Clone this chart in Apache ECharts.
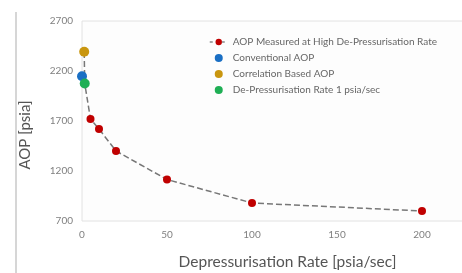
<!DOCTYPE html>
<html>
<head>
<meta charset="utf-8">
<script src="https://cdn.jsdelivr.net/npm/echarts@6/dist/echarts.min.js"></script>
<style>
    html, body { margin: 0; padding: 0; background: #fff; }
    #chart { width: 462px; height: 273px; }
</style>
</head>
<body>
<div id="chart"></div>
<script>
// AOP vs depressurisation rate
var measuredData = [[1.3, 2390], [1.6, 2075], [5, 1720], [10, 1620], [20, 1400], [50, 1115], [100, 880], [200, 800]];
var conventionalData = [[0, 2148]];
var correlationData = [[1.3, 2393]];
var rate1Data = [[1.6, 2075]];
var yTicks = [700, 1200, 1700, 2200, 2700];

var names = [
    'AOP Measured at High De-Pressurisation Rate',
    'Conventional AOP',
    'Correlation Based AOP',
    'De-Pressurisation Rate 1 psia/sec'
];

var font = 'Lato';
var myChart = echarts.init(document.getElementById('chart'));

var option = {
    backgroundColor: '#fff',
    animation: false,
    textStyle: { fontFamily: font },
    legend: {
        orient: 'vertical',
        left: 204,
        top: 32,
        itemGap: 6,
        itemWidth: 18,
        itemHeight: 8,
        textStyle: { color: '#666', fontSize: 10, fontFamily: font },
        data: [
            { name: names[0], lineStyle: { color: '#888', type: [3, 3], width: 1.5 } },
            names[1], names[2], names[3]
        ]
    },
    grid: {
        left: 82,
        top: 21,
        width: 391,
        height: 200,
        outerBoundsMode: 'none',
        containLabel: false,
        show: true,
        borderColor: '#e2e2e2',
        borderWidth: 1,
        backgroundColor: '#fdfdfd'
    },
    xAxis: {
        type: 'value',
        min: 0,
        max: 230,
        interval: 50,
        name: 'Depressurisation Rate [psia/sec]',
        nameLocation: 'middle',
        nameGap: 33,
        nameTextStyle: { color: '#555', fontSize: 15.5, fontFamily: font, padding: [0, 0, 0, 20] },
        axisLine: { show: false },
        axisTick: { show: false },
        splitLine: { show: false },
        axisLabel: {
            color: '#808080', fontSize: 10, margin: 9, fontFamily: font,
            formatter: function (v) { return v <= 200 ? String(v) : ''; }
        }
    },
    yAxis: {
        type: 'value',
        min: 700,
        max: 2700,
        interval: 500,
        axisLine: { show: false },
        axisTick: { show: false },
        splitLine: { show: false },
        axisLabel: {
            color: '#808080', fontSize: 10, margin: 9, fontFamily: font,
            formatter: function (v) { return yTicks.indexOf(v) >= 0 ? String(v) : ''; }
        }
    },
    graphic: [{
        type: 'line',
        shape: { x1: 16, y1: 12, x2: 16, y2: 273 },
        style: { stroke: '#c8c8c8', lineWidth: 1.5 }
    }, {
        // y axis title, sits a bit below the plot middle
        type: 'text',
        x: 25,
        y: 135,
        rotation: Math.PI / 2,
        style: {
            text: 'AOP [psia]',
            fill: '#555',
            fontSize: 15,
            fontFamily: font,
            align: 'center',
            verticalAlign: 'middle'
        }
    }],
    series: [{
        name: names[0],
        type: 'line',
        symbol: 'circle',
        symbolSize: 8,
        z: 2,
        lineStyle: { color: '#777', type: 'dashed', width: 1.5 },
        itemStyle: { color: '#c00000' },
        data: measuredData
    }, {
        name: names[1],
        type: 'scatter',
        symbolSize: 10,
        z: 5,
        itemStyle: { color: '#1a6fc4', opacity: 1 },
        data: conventionalData
    }, {
        name: names[2],
        type: 'scatter',
        symbolSize: 10,
        z: 5,
        itemStyle: { color: '#c9960f', opacity: 1 },
        data: correlationData
    }, {
        name: names[3],
        type: 'scatter',
        symbolSize: 10,
        z: 5,
        itemStyle: { color: '#1faf55', opacity: 1 },
        data: rate1Data
    }]
};

myChart.setOption(option);
</script>
</body>
</html>
